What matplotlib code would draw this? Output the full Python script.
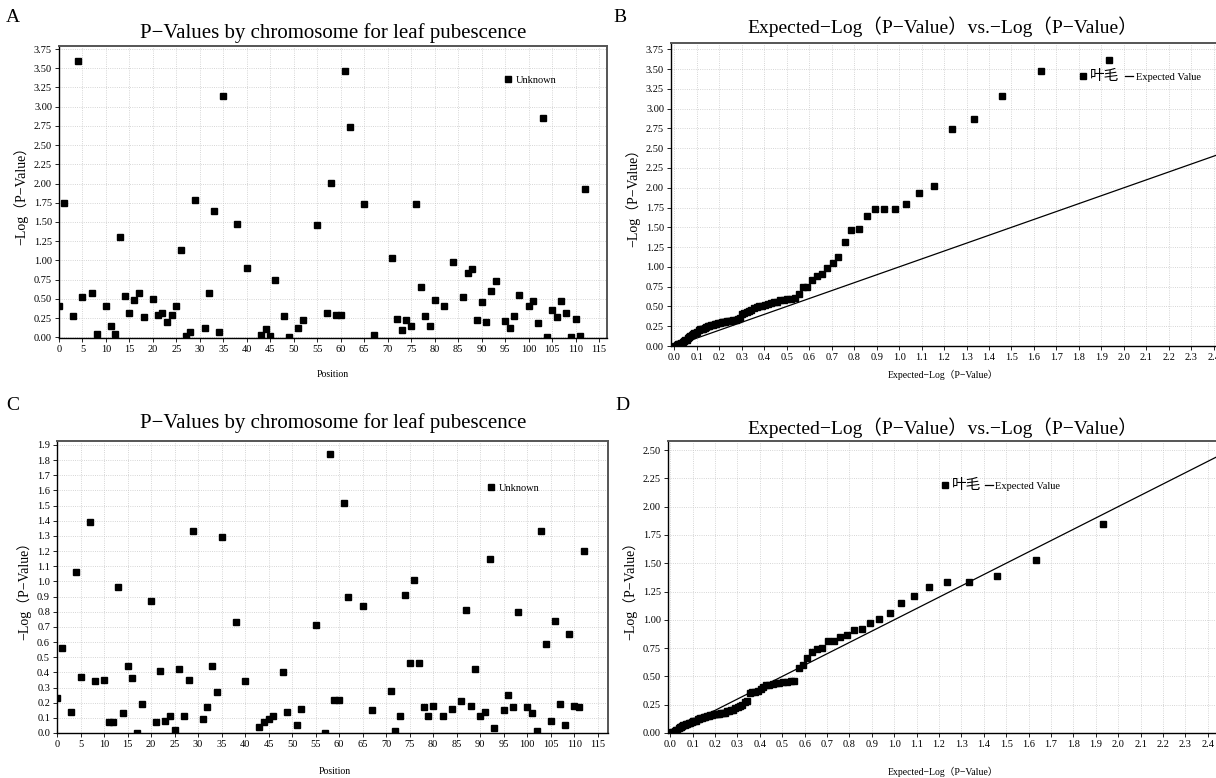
import matplotlib
matplotlib.use("Agg")
import matplotlib.pyplot as plt
from matplotlib.lines import Line2D
import numpy as np

plt.rcParams['font.family'] = ['Liberation Serif', 'Noto Sans CJK SC']
plt.rcParams['axes.unicode_minus'] = True

# =========================================================
# DATA
# =========================================================

positions = [0, 1, 3, 4, 5, 7, 8, 10, 11, 12, 13, 14, 15, 16, 17, 18, 20, 21, 22, 23,
             24, 25, 26, 27, 28, 29, 31, 32, 33, 34, 35, 38, 40, 43, 44, 45, 46, 48, 49,
             51, 52, 55, 57, 58, 59, 60, 61, 62, 65, 67, 71, 72, 73, 74, 75, 76, 77, 78,
             79, 80, 82, 84, 86, 87, 88, 89, 90, 91, 92, 93, 95, 96, 97, 98, 100, 101,
             102, 103, 104, 105, 106, 107, 108, 109, 110, 111, 112]

logp_a = [0.40, 1.75, 0.28, 3.60, 0.52, 0.58, 0.04, 0.41, 0.14, 0.04, 1.30, 0.54, 0.32,
          0.48, 0.58, 0.26, 0.50, 0.29, 0.31, 0.20, 0.29, 0.40, 1.13, 0.02, 0.07, 1.79,
          0.12, 0.57, 1.64, 0.07, 3.14, 1.48, 0.90, 0.03, 0.11, 0.01, 0.74, 0.27, 0.00,
          0.12, 0.23, 1.46, 0.32, 2.01, 0.29, 0.29, 3.47, 2.73, 1.74, 0.03, 1.03, 0.24,
          0.09, 0.22, 0.14, 1.73, 0.66, 0.28, 0.14, 0.49, 0.41, 0.98, 0.53, 0.83, 0.89,
          0.23, 0.46, 0.20, 0.60, 0.73, 0.21, 0.12, 0.27, 0.55, 0.41, 0.47, 0.18, 2.85,
          0.00, 0.36, 0.26, 0.47, 0.32, 0.00, 0.24, 0.02, 1.93]

logp_c = [0.23, 0.56, 0.14, 1.06, 0.37, 1.39, 0.34, 0.35, 0.07, 0.07, 0.96, 0.13, 0.44,
          0.36, 0.00, 0.19, 0.87, 0.07, 0.41, 0.08, 0.11, 0.02, 0.42, 0.11, 0.35, 1.33,
          0.09, 0.17, 0.44, 0.27, 1.29, 0.73, 0.34, 0.04, 0.07, 0.09, 0.11, 0.40, 0.14,
          0.05, 0.16, 0.71, 0.00, 1.84, 0.22, 0.22, 1.52, 0.90, 0.84, 0.15, 0.28, 0.01,
          0.11, 0.91, 0.46, 1.01, 0.46, 0.17, 0.11, 0.18, 0.11, 0.16, 0.21, 0.81, 0.18,
          0.42, 0.11, 0.14, 1.15, 0.03, 0.15, 0.25, 0.17, 0.80, 0.17, 0.13, 0.01, 1.33,
          0.59, 0.08, 0.74, 0.19, 0.05, 0.65, 0.18, 0.17, 1.20]

expected = [1.934, 1.633, 1.457, 1.332, 1.236, 1.156, 1.089, 1.031, 0.980, 0.934,
            0.893, 0.855, 0.821, 0.788, 0.758, 0.730, 0.704, 0.679, 0.656, 0.633,
            0.612, 0.592, 0.573, 0.554, 0.537, 0.520, 0.503, 0.487, 0.472, 0.457,
            0.443, 0.429, 0.416, 0.403, 0.390, 0.378, 0.366, 0.355, 0.343, 0.332,
            0.322, 0.311, 0.301, 0.291, 0.281, 0.272, 0.262, 0.253, 0.244, 0.236,
            0.227, 0.218, 0.210, 0.202, 0.194, 0.186, 0.179, 0.171, 0.164, 0.156,
            0.149, 0.142, 0.135, 0.128, 0.122, 0.115, 0.108, 0.102, 0.096, 0.089,
            0.083, 0.077, 0.071, 0.065, 0.059, 0.054, 0.048, 0.042, 0.037, 0.031,
            0.026, 0.021, 0.015, 0.010, 0.005]

observed_b = [3.61, 3.48, 3.16, 2.87, 2.74, 2.02, 1.94, 1.80, 1.73, 1.73, 1.73, 1.64,
              1.48, 1.46, 1.31, 1.13, 1.05, 0.99, 0.91, 0.89, 0.83, 0.75, 0.74, 0.66,
              0.61, 0.60, 0.59, 0.58, 0.58, 0.56, 0.55, 0.54, 0.53, 0.52, 0.51, 0.50,
              0.49, 0.48, 0.46, 0.44, 0.43, 0.42, 0.41, 0.35, 0.34, 0.33, 0.33, 0.32,
              0.31, 0.31, 0.30, 0.30, 0.30, 0.29, 0.29, 0.28, 0.28, 0.27, 0.26, 0.25,
              0.25, 0.24, 0.23, 0.22, 0.22, 0.21, 0.20, 0.18, 0.17, 0.16, 0.15, 0.14,
              0.13, 0.12, 0.10, 0.08, 0.07, 0.06, 0.05, 0.04, 0.03, 0.02, 0.02, 0.01,
              0.00]

observed_d = [1.85, 1.53, 1.39, 1.33, 1.33, 1.29, 1.21, 1.15, 1.06, 1.01, 0.97, 0.92,
              0.91, 0.87, 0.85, 0.81, 0.81, 0.75, 0.74, 0.72, 0.66, 0.60, 0.57, 0.46,
              0.46, 0.45, 0.45, 0.44, 0.44, 0.43, 0.42, 0.42, 0.41, 0.39, 0.37, 0.36,
              0.36, 0.35, 0.28, 0.27, 0.25, 0.24, 0.23, 0.22, 0.20, 0.20, 0.19, 0.19,
              0.18, 0.18, 0.18, 0.17, 0.17, 0.17, 0.17, 0.16, 0.16, 0.15, 0.15, 0.14,
              0.14, 0.13, 0.13, 0.12, 0.12, 0.11, 0.11, 0.11, 0.10, 0.09, 0.09, 0.08,
              0.08, 0.07, 0.07, 0.06, 0.05, 0.05, 0.04, 0.03, 0.03, 0.02, 0.01, 0.01,
              0.00]

line_x = [0.0, 2.5]
line_y = [0.0, 2.5]

TITLE_MAN = "P\u2212Values by chromosome for leaf pubescence"
TITLE_QQ = "Expected\u2212Log\uff08P\u2212Value\uff09vs.\u2212Log\uff08P\u2212Value\uff09"
YLABEL = "\u2212Log\uff08P\u2212Value\uff09"
XLABEL_QQ = "Expected\u2212Log\uff08P\u2212Value\uff09"

W, H = 1216, 778


# =========================================================
# HELPERS
# =========================================================

def px_axes(fig, left, top, right, bottom):
    return fig.add_axes([left / W, 1 - bottom / H, (right - left) / W, (bottom - top) / H])


def style_axes(ax):
    ax.grid(True, color="#c8c8c8", linestyle=":", linewidth=0.6)
    ax.set_axisbelow(True)
    for s in ["left", "bottom"]:
        ax.spines[s].set_color("black")
        ax.spines[s].set_linewidth(1.0)
    for s in ["top", "right"]:
        ax.spines[s].set_color("#555555")
        ax.spines[s].set_linewidth(1.4)
    ax.tick_params(direction="out", length=3, width=0.6, labelsize=7.5, pad=2)


def fp(x, y):
    return (x / W, 1 - y / H)


def sq_handle():
    return Line2D([], [], marker="s", color="black", ls="", ms=4)


# =========================================================
# FIGURE
# =========================================================

fig = plt.figure(figsize=(W / 100, H / 100), dpi=100)

# ---------- A ----------
axA = px_axes(fig, 59, 46, 607, 338)
style_axes(axA)
axA.plot(positions, logp_a, "s", color="black", ms=4.8)
axA.set_xlim(0, 116.7)
axA.set_ylim(-0.01, 3.79)
axA.set_xticks(np.arange(0, 116, 5))
axA.set_yticks(np.arange(0, 3.76, 0.25))
axA.yaxis.set_major_formatter(matplotlib.ticker.FormatStrFormatter("%.2f"))
axA.set_ylabel(YLABEL, fontsize=10, labelpad=4)
fig.text(333 / W, 1 - 375 / H, "Position", fontsize=7, ha="center", va="center")
axA.legend([sq_handle()], ["Unknown"],
           frameon=False, fontsize=7.5, loc="center left", borderpad=0,
           handlelength=0.8, handletextpad=0.3,
           bbox_to_anchor=fp(499, 80), bbox_transform=fig.transFigure)

# ---------- C ----------
axC = px_axes(fig, 57, 441, 608, 733)
style_axes(axC)
axC.plot(positions, logp_c, "s", color="black", ms=4.8)
axC.set_xlim(0, 117.2)
axC.set_ylim(0, 1.926)
axC.set_xticks(np.arange(0, 116, 5))
axC.set_yticks(np.arange(0, 1.95, 0.1))
axC.yaxis.set_major_formatter(matplotlib.ticker.FormatStrFormatter("%.1f"))
axC.set_ylabel(YLABEL, fontsize=10, labelpad=4)
fig.text(335 / W, 1 - 771 / H, "Position", fontsize=7, ha="center", va="center")
axC.legend([sq_handle()], ["Unknown"],
           frameon=False, fontsize=7.5, loc="center left", borderpad=0,
           handlelength=0.8, handletextpad=0.3,
           bbox_to_anchor=fp(482, 488), bbox_transform=fig.transFigure)

# ---------- B ----------
axB = px_axes(fig, 671, 43, 1225, 346)
style_axes(axB)
axB.plot(line_x, line_y, color="black", lw=0.9)
axB.plot(expected, observed_b, "s", color="black", ms=4.2)
axB.set_xlim(-0.015, 2.45)
axB.set_ylim(0, 3.83)
axB.set_xticks(np.arange(0, 2.45, 0.1))
axB.set_yticks(np.arange(0, 3.76, 0.25))
axB.xaxis.set_major_formatter(matplotlib.ticker.FormatStrFormatter("%.1f"))
axB.yaxis.set_major_formatter(matplotlib.ticker.FormatStrFormatter("%.2f"))
axB.set_ylabel(YLABEL, fontsize=10, labelpad=4)
fig.text(943 / W, 1 - 375 / H, XLABEL_QQ, fontsize=7, ha="center", va="center")
legB = axB.legend([sq_handle(), Line2D([], [], color="black", lw=0.9)],
                  ["叶毛", "Expected Value"], ncol=2, frameon=False, fontsize=7.5,
                  loc="center left", borderpad=0, handlelength=0.8, handletextpad=0.2,
                  columnspacing=0.6,
                  bbox_to_anchor=fp(1074, 76), bbox_transform=fig.transFigure)
legB.get_texts()[0].set_fontsize(10.5)

# ---------- D ----------
axD = px_axes(fig, 668, 441, 1219, 733)
style_axes(axD)
axD.plot(line_x, line_y, color="black", lw=0.9)
axD.plot(expected, observed_d, "s", color="black", ms=4.2)
axD.set_xlim(-0.01, 2.45)
axD.set_ylim(0, 2.58)
axD.set_xticks(np.arange(0, 2.45, 0.1))
axD.set_yticks(np.arange(0, 2.51, 0.25))
axD.xaxis.set_major_formatter(matplotlib.ticker.FormatStrFormatter("%.1f"))
axD.yaxis.set_major_formatter(matplotlib.ticker.FormatStrFormatter("%.2f"))
axD.set_ylabel(YLABEL, fontsize=10, labelpad=4)
fig.text(943 / W, 1 - 772 / H, XLABEL_QQ, fontsize=7, ha="center", va="center")
legD = axD.legend([sq_handle(), Line2D([], [], color="black", lw=0.9)],
                  ["叶毛", "Expected Value"], ncol=2, frameon=False, fontsize=7.5,
                  loc="center left", borderpad=0, handlelength=0.8, handletextpad=0.2,
                  columnspacing=0.4,
                  bbox_to_anchor=fp(936, 485), bbox_transform=fig.transFigure)
legD.get_texts()[0].set_fontsize(10.5)

# ---------- titles & panel letters ----------
fig.text(333 / W, 1 - 33 / H, TITLE_MAN, fontsize=15, ha="center", va="center")
fig.text(333 / W, 1 - 423 / H, TITLE_MAN, fontsize=15, ha="center", va="center")
fig.text(943 / W, 1 - 27 / H, TITLE_QQ, fontsize=14, ha="center", va="center")
fig.text(943 / W, 1 - 428 / H, TITLE_QQ, fontsize=14, ha="center", va="center")

for letter, x, y in [("A", 13, 18), ("B", 620, 18), ("C", 13, 405), ("D", 622, 405)]:
    fig.text(x / W, 1 - y / H, letter, fontsize=14, ha="center", va="center")

fig.savefig("out.png", dpi=100, facecolor="white")
